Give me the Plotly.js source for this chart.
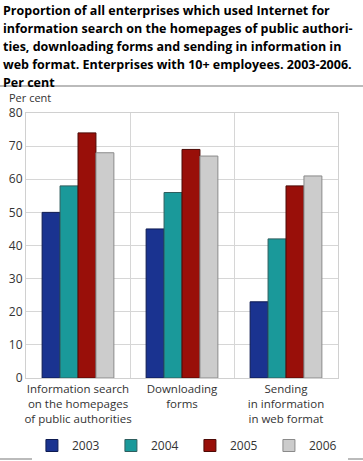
<!DOCTYPE html>
<html>
<head>
<meta charset="utf-8">
<script src="https://cdn.plot.ly/plotly-3.0.1.min.js"></script>
<style>html,body{margin:0;padding:0;background:#fff;}#chart{width:363px;height:461px;}</style>
</head>
<body>
<div id="chart"></div>
<script>
var categories = ["Information search<br>on the homepages<br>of public authorities", "Downloading<br>forms", "Sending<br>in information<br>in web format"];
var years = ["2003", "2004", "2005", "2006"];
var v2003 = [50, 45, 23];
var v2004 = [58, 56, 42];
var v2005 = [74, 69, 58];
var v2006 = [68, 67, 61];
var yTicks = [0, 10, 20, 30, 40, 50, 60, 70, 80];
var titleLines = [
  "Proportion of all enterprises which used Internet for",
  "information search on the homepages of public authori-",
  "ties, downloading forms and sending in information in",
  "web format. Enterprises with 10+ employees. 2003-2006.",
  "Per cent"
];

var series = [v2003, v2004, v2005, v2006];
var fills = ["#1a3390", "#1a999a", "#990f09", "#cccccc"];
var lines = ["#0d1a50", "#2f5e5e", "#4d0a06", "#8a8a8a"];

var traces = series.map(function(vals, i) {
  return {
    type: "bar",
    x: categories,
    y: vals,
    name: years[i],
    marker: {color: fills[i], line: {color: lines[i], width: 1}},
    hoverinfo: "none"
  };
});

var font = "Open Sans, DejaVu Sans, sans-serif";
var plotH = 265, plotW = 312, plotBottom = 378, plotLeft = 26;

var annotations = titleLines.map(function(t, i) {
  return {
    text: "<b>" + t + "</b>", xref: "paper", yref: "paper",
    x: (1 - plotLeft) / plotW, xanchor: "left",
    y: (plotBottom - (10 + 18 * i)) / plotH, yanchor: "middle",
    showarrow: false, font: {family: font, size: 12.5, color: "#000000"}
  };
});
annotations.push({
  text: "Per cent", xref: "paper", yref: "paper",
  x: (7 - plotLeft) / plotW, xanchor: "left", y: (plotBottom - 97) / plotH, yanchor: "middle",
  showarrow: false, font: {family: font, size: 11, color: "#333333"}
});

var layout = {
  width: 363, height: 461,
  margin: {l: 26, r: 25, t: 113, b: 83, autoexpand: false},
  paper_bgcolor: "#ffffff", plot_bgcolor: "#ffffff",
  barmode: "group", bargap: 0.31, bargroupgap: 0,
  font: {family: font, size: 12, color: "#333333"},
  xaxis: {
    type: "category",
    tickson: "boundaries",
    tickangle: 0,
    automargin: false,
    showgrid: true, gridcolor: "#d6d6d6", gridwidth: 1,
    showline: true, linecolor: "#d0d0d0", linewidth: 1, mirror: true,
    ticks: "", tickfont: {family: font, size: 11.5, color: "#333333"},
    fixedrange: true
  },
  yaxis: {
    range: [0, 80],
    tickvals: yTicks,
    automargin: false,
    showgrid: true, gridcolor: "#d6d6d6", gridwidth: 1,
    showline: true, linecolor: "#d0d0d0", linewidth: 1, mirror: true,
    zeroline: false,
    ticks: "", ticklen: 0, tickfont: {family: font, size: 12, color: "#333333"},
    fixedrange: true
  },
  showlegend: true,
  legend: {
    orientation: "h",
    x: 0.019, xanchor: "left",
    y: -0.2, yanchor: "top",
    entrywidth: 34, entrywidthmode: "pixels",
    font: {family: font, size: 12, color: "#333333"},
    itemclick: false, itemdoubleclick: false
  },
  annotations: annotations,
  shapes: [
    {type: "line", xref: "paper", yref: "paper", x0: -0.09, x1: 1.09, y0: (plotBottom - 86) / plotH, y1: (plotBottom - 86) / plotH, line: {color: "#bbbbbb", width: 2}},
    {type: "line", xref: "paper", yref: "paper", x0: -0.09, x1: 1.09, y0: (plotBottom - 459) / plotH, y1: (plotBottom - 459) / plotH, line: {color: "#bbbbbb", width: 2}}
  ]
};

Plotly.newPlot("chart", traces, layout, {staticPlot: true, displayModeBar: false});
</script>
</body>
</html>
